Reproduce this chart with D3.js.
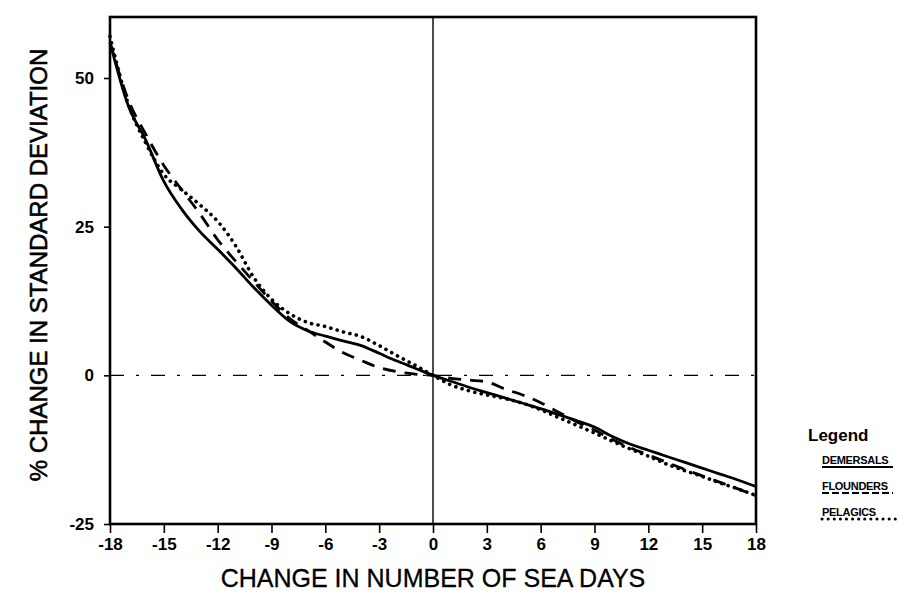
<!DOCTYPE html>
<html><head><meta charset="utf-8">
<script src="https://cdn.jsdelivr.net/npm/d3@7"></script>
<style>
body{margin:0;background:#fff;}
svg{display:block;}
</style></head>
<body>
<svg id="c" width="907" height="614"></svg>
<script>
const days = d3.range(-18, 19);
const demersals = [56,45.5,39.5,32.6,27.9,24.2,21.2,18.1,14.8,11.8,9.1,7.5,6.6,5.8,5.0,3.7,2.4,1.2,0,-1.0,-2.0,-2.9,-3.8,-4.7,-5.6,-6.6,-7.6,-8.7,-10.3,-11.6,-12.6,-13.6,-14.6,-15.6,-16.6,-17.6,-18.7];
const flounders = [56,46.5,40.5,35.3,31.2,27.2,22.8,19.2,15.8,12.5,9.6,7.6,5.6,3.8,2.5,1.3,0.6,0.2,0,-0.5,-0.8,-1.1,-2.3,-3.3,-4.6,-6.2,-7.8,-9.2,-10.8,-12.2,-13.4,-14.6,-15.8,-16.9,-18.0,-19.1,-20.3];
const pelagics = [57,45.8,39,33.8,31.2,28.7,25.9,21.8,16.5,12.8,10.4,8.9,8.2,7.3,6.5,5.0,3.3,1.7,0,-1.6,-2.6,-3.3,-3.9,-4.7,-5.8,-7.1,-8.4,-9.7,-11.1,-12.4,-13.6,-14.9,-16.0,-17.0,-18.1,-19.1,-20.2];
const xTicks = [-18,-15,-12,-9,-6,-3,0,3,6,9,12,15,18];
const yTicks = [50,25,0,-25];
const seriesNames = ["DEMERSALS","FLOUNDERS","PELAGICS"];

const svg = d3.select("#c");
const L=110, R=756, T=17, B=524;
const x = d3.scaleLinear().domain([-18,18]).range([L,R]);
const y = d3.scaleLinear().domain([-25,50]).range([B,78]);
const font = "'Liberation Sans', Arial, sans-serif";

// zero lines
svg.append("line").attr("x1",x(0)).attr("x2",x(0)).attr("y1",T).attr("y2",B)
  .attr("stroke","#000").attr("stroke-width",1.4);
svg.append("line").attr("x1",L).attr("x2",R).attr("y1",y(0)).attr("y2",y(0))
  .attr("stroke","#000").attr("stroke-width",1.2).attr("stroke-dasharray","14,12,3,12");

// frame
svg.append("rect").attr("x",L).attr("y",T).attr("width",R-L).attr("height",B-T)
  .attr("fill","none").attr("stroke","#000").attr("stroke-width",2.6);

// axes
const xAxis = svg.append("g").attr("transform",`translate(0,${B})`)
  .call(d3.axisBottom(x).tickValues(xTicks).tickSize(9).tickPadding(5).tickFormat(d3.format("d")));
const yAxis = svg.append("g").attr("transform",`translate(${L},0)`)
  .call(d3.axisLeft(y).tickValues(yTicks).tickSize(6).tickPadding(10).tickFormat(d3.format("d")));
[xAxis,yAxis].forEach(g=>{
  g.select(".domain").remove();
  g.selectAll(".tick line").attr("stroke","#000").attr("stroke-width",1.6);
  g.selectAll(".tick text").attr("fill","#000").style("font-family",font)
    .style("font-size","17px").style("font-weight","bold");
});
xAxis.selectAll(".tick text").text(d=> d<0 ? "-"+Math.abs(d) : d);
yAxis.selectAll(".tick text").text(d=> d<0 ? "-"+Math.abs(d) : d);

// lines
const line = (vals)=> d3.line().curve(d3.curveMonotoneX)
  .x((d,i)=>x(days[i])).y(d=>y(d))(vals);
const styles = [
  {data:demersals, dash:null, cap:"butt"},
  {data:flounders, dash:"13,9", cap:"butt"},
  {data:pelagics, dash:"0.1,6.5", cap:"round"}
];
styles.forEach(s=>{
  const p = svg.append("path").attr("d",line(s.data)).attr("fill","none")
    .attr("stroke","#000").attr("stroke-width", s.cap==="round"?3.6:2.8)
    .attr("stroke-linecap",s.cap).attr("stroke-linejoin","round");
  if(s.dash) p.attr("stroke-dasharray",s.dash);
});

// axis titles
svg.append("text").attr("x",x(0)).attr("y",587).attr("text-anchor","middle")
  .style("font-family",font).style("font-size","25px").attr("stroke","#000").attr("stroke-width",0.3)
  .text("CHANGE IN NUMBER OF SEA DAYS");
svg.append("text").attr("transform","translate(47,265) rotate(-90)").attr("text-anchor","middle")
  .style("font-family",font).style("font-size","24px").attr("stroke","#000").attr("stroke-width",0.6)
  .text("% CHANGE IN STANDARD DEVIATION");

// legend
svg.append("text").attr("x",808).attr("y",441).style("font-family",font)
  .style("font-size","17px").style("font-weight","bold").text("Legend");
seriesNames.forEach((n,i)=>{
  const yy = 464 + i*26;
  svg.append("text").attr("x",822).attr("y",yy).style("font-family",font)
    .style("font-size","11px").style("font-weight","bold").style("letter-spacing","-0.3px").text(n);
  const l = svg.append("line").attr("x1",822).attr("x2",i===2?898:893).attr("y1",yy+3).attr("y2",yy+3)
    .attr("stroke","#000").attr("stroke-width",i===2?3:2.2);
  if(i===1) l.attr("stroke-dasharray","7,3");
  if(i===2) l.attr("stroke-dasharray","0.1,6").attr("stroke-linecap","round");
});
</script>
</body></html>
